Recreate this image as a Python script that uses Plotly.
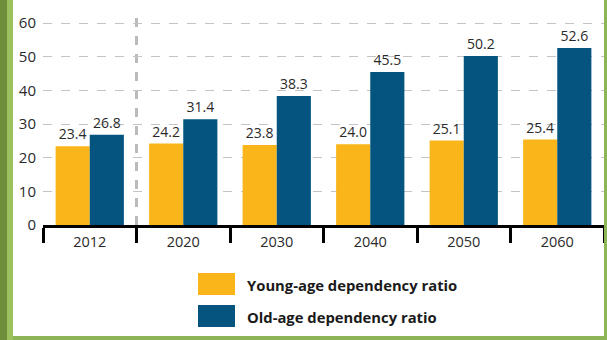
import plotly.graph_objects as go

years = ["2012", "2020", "2030", "2040", "2050", "2060"]
young = [23.4, 24.2, 23.8, 24.0, 25.1, 25.4]
old = [26.8, 31.4, 38.3, 45.5, 50.2, 52.6]
series_names = ["Young-age dependency ratio", "Old-age dependency ratio"]
colors = ["#F9B51A", "#05547F"]

W, H = 607, 340
L, R, T, B = 43, 3, 13, 115
PW, PH = W - L - R, H - T - B

def px(x):
    return (x - L) / PW

def py(y):
    return (H - B - y) / PH

fig = go.Figure()
for name, vals, col in zip(series_names, [young, old], colors):
    fig.add_trace(go.Bar(
        x=years, y=vals, name=name, marker=dict(color=col, line=dict(width=0)),
        text=[f"{v:.1f}" for v in vals], textposition="outside",
        textfont=dict(size=14, color="#2A2A2A", family="Open Sans"),
        cliponaxis=False, showlegend=False,
    ))

shapes = []
# vertical dashed separator
shapes.append(dict(type="line", xref="x", yref="y", x0=0.5, x1=0.5, y0=0, y1=63,
                   line=dict(color="#BBBBBB", width=3, dash="dash"), layer="below"))
# green frame
shapes.append(dict(type="rect", xref="paper", yref="paper", x0=px(0), x1=px(7), y0=py(H), y1=py(0),
                   fillcolor="#6F8E3C", line=dict(width=0)))
shapes.append(dict(type="rect", xref="paper", yref="paper", x0=px(7), x1=px(13), y0=py(H), y1=py(0),
                   fillcolor="#9DC05E", line=dict(width=0)))
shapes.append(dict(type="rect", xref="paper", yref="paper", x0=px(13), x1=px(W), y0=py(H), y1=py(H - 4),
                   fillcolor="#8DB455", line=dict(width=0)))
shapes.append(dict(type="rect", xref="paper", yref="paper", x0=px(W - 3), x1=px(W), y0=py(H), y1=py(0),
                   fillcolor="#8DB455", line=dict(width=0)))
# legend boxes
legend_rows = [(273, 295), (305, 327)]
annotations = []
for (y0, y1), name, col in zip(legend_rows, series_names, colors):
    shapes.append(dict(type="rect", xref="paper", yref="paper", x0=px(198), x1=px(235),
                       y0=py(y1), y1=py(y0), fillcolor=col, line=dict(width=0)))
    annotations.append(dict(xref="paper", yref="paper", x=px(245), y=py((y0 + y1) / 2 + 1),
                            xanchor="left", yanchor="middle", showarrow=False,
                            text=f"<b>{name}</b>",
                            font=dict(size=14.8, color="#1A1A1A", family="Open Sans")))

fig.update_layout(
    width=W, height=H, margin=dict(l=L, r=R, t=T, b=B),
    paper_bgcolor="white", plot_bgcolor="white",
    barmode="group", bargap=0.27, bargroupgap=0,
    font=dict(family="Open Sans", color="#333333"),
    shapes=shapes, annotations=annotations,
    xaxis=dict(type="category", tickson="boundaries", ticks="outside", ticklen=15, tickwidth=3,
               tickcolor="black", showline=True, linewidth=3, linecolor="black",
               tickfont=dict(size=14.5, color="#2A2A2A"), showgrid=False,
               range=[-0.5, 5.5], ticklabelstandoff=2),
    yaxis=dict(range=[0, 63], tickvals=[0, 10, 20, 30, 40, 50, 60], showgrid=True,
               gridcolor="#C4C4C4", griddash="dash", gridwidth=1, zeroline=False,
               tickfont=dict(size=15, color="#2A2A2A"), ticks="", ticklabelstandoff=6),
)

fig.write_html("out.html")
